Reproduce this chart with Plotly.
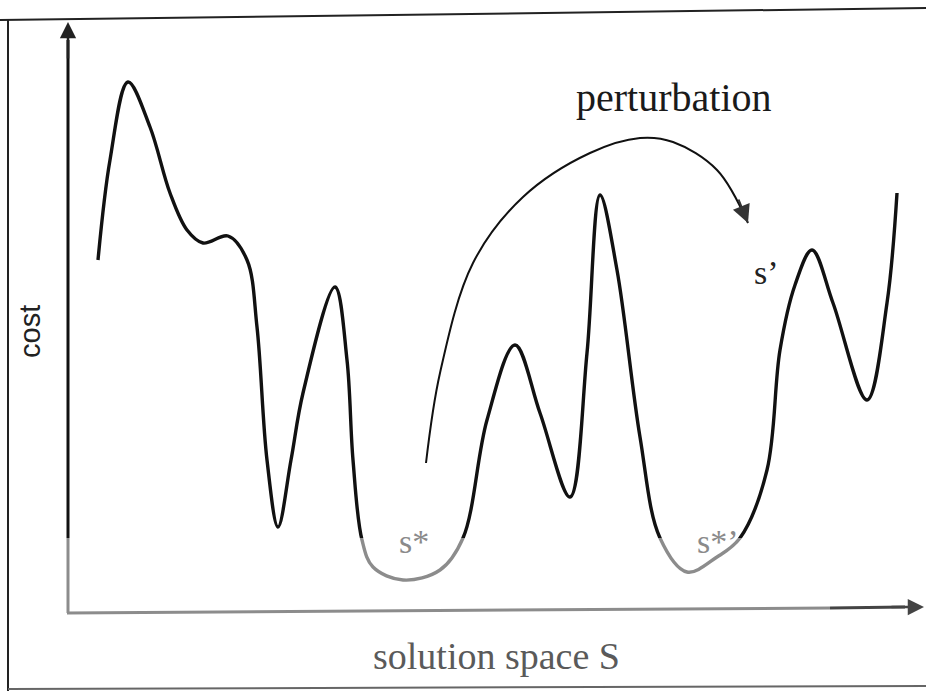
import plotly.graph_objects as go

# cost landscape (pixel-like units, cost grows upward on screen)
landscape_x = [98, 110, 128, 150, 170, 187, 203, 228, 247, 257, 267, 278, 291, 303, 335, 347, 353,
               362, 373, 403, 440, 463, 487, 515, 540, 570, 587, 600, 617, 640, 660, 687, 717,
               740, 767, 780, 795, 812, 833, 867, 887, 897]
landscape_y = [260, 160, 82, 127, 193, 230, 243, 236, 260, 327, 460, 527, 460, 393, 287, 360, 460,
               540, 567, 580, 570, 538, 420, 345, 413, 497, 353, 195, 270, 437, 538, 572, 557,
               538, 470, 350, 285, 250, 303, 400, 303, 193]

# perturbation jump from s* to s'
jump_x = [426, 440, 473, 523, 590, 640, 673, 717, 748]
jump_y = [463, 373, 263, 197, 153, 138, 142, 170, 223]

labels = ["s*", "s*\u2019", "s\u2019"]
label_x = [414, 718, 766]
label_y = [541, 541, 272]
label_color = ["#8a8a8a", "#8a8a8a", "#222222"]

W, H = 926, 691
GRAY_LEVEL = 538  # below this the curve is drawn grey

fig = go.Figure()

fig.add_trace(go.Scatter(x=landscape_x, y=landscape_y, mode="lines",
                         line=dict(color="#111111", width=3.4, shape="spline", smoothing=1.0),
                         hoverinfo="skip"))
# same curve again on an overlay axis that only covers the bottom band -> grey part
fig.add_trace(go.Scatter(x=landscape_x, y=landscape_y, mode="lines", xaxis="x2", yaxis="y2",
                         line=dict(color="#8c8c8c", width=3.4, shape="spline", smoothing=1.0),
                         hoverinfo="skip"))
fig.add_trace(go.Scatter(x=jump_x, y=jump_y, mode="lines",
                         line=dict(color="#111111", width=2, shape="spline", smoothing=1.0),
                         hoverinfo="skip"))

fig.add_annotation(x=jump_x[-1], y=jump_y[-1], ax=738, ay=198, xref="x", yref="y",
                   axref="x", ayref="y", text="", showarrow=True, arrowhead=2,
                   arrowsize=1.8, arrowwidth=2, arrowcolor="#333333")

serif = "Liberation Serif, Times New Roman, serif"
for t, x, y, c in zip(labels, label_x, label_y, label_color):
    fig.add_annotation(x=x, y=y, text=t, showarrow=False,
                       font=dict(family=serif, size=34, color=c))

fig.add_annotation(x=674, y=97, text="perturbation", showarrow=False,
                   font=dict(family=serif, size=40, color="#1a1a1a"))
fig.add_annotation(x=496, y=656, text="solution space S", showarrow=False,
                   font=dict(family=serif, size=38, color="#5a5a5a"))
fig.add_annotation(x=30, y=332, text="cost", showarrow=False, textangle=-90,
                   font=dict(family="Liberation Sans, Arial, sans-serif", size=29, color="#222222"))

# frame and axis arrows
shapes = [
    dict(type="line", x0=0, y0=20, x1=926, y1=8, line=dict(color="#222", width=2)),
    dict(type="line", x0=8, y0=19, x1=8, y1=700, line=dict(color="#222", width=2)),
    dict(type="line", x0=8, y0=689, x1=926, y1=686, line=dict(color="#666", width=2)),
    dict(type="line", x0=68, y0=40, x1=68, y1=GRAY_LEVEL, line=dict(color="#111", width=3)),
    dict(type="line", x0=68, y0=GRAY_LEVEL, x1=68, y1=613, line=dict(color="#8c8c8c", width=3)),
    dict(type="line", x0=67, y0=613, x1=830, y1=608, line=dict(color="#8c8c8c", width=3)),
    dict(type="line", x0=830, y0=608, x1=905, y1=607, line=dict(color="#444", width=3)),
]
fig.update_layout(shapes=shapes)
fig.add_annotation(x=68, y=22, ax=68, ay=60, xref="x", yref="y", axref="x", ayref="y",
                   text="", showarrow=True, arrowhead=2, arrowsize=1.3, arrowwidth=2.5,
                   arrowcolor="#222")
fig.add_annotation(x=924, y=607, ax=890, ay=607, xref="x", yref="y", axref="x", ayref="y",
                   text="", showarrow=True, arrowhead=2, arrowsize=1.3, arrowwidth=2.5,
                   arrowcolor="#444")

axis_off = dict(showgrid=False, zeroline=False, showticklabels=False, ticks="", showline=False)
fig.update_layout(
    width=W, height=H,
    margin=dict(l=0, r=0, t=0, b=0),
    paper_bgcolor="white", plot_bgcolor="white",
    showlegend=False,
    xaxis=dict(range=[0, W], domain=[0, 1], **axis_off),
    yaxis=dict(range=[H, 0], domain=[0, 1], **axis_off),
    xaxis2=dict(range=[0, W], domain=[0, 1], overlaying="x", **axis_off),
    yaxis2=dict(range=[H, GRAY_LEVEL], domain=[0, (H - GRAY_LEVEL) / H], anchor="x2", **axis_off),
)

# drop the default page margin so the figure sits at the window origin without scrollbars
fig.write_html("out.html", config={"displayModeBar": False},
               post_script="document.body.style.margin='0';document.body.style.overflow='hidden';")
